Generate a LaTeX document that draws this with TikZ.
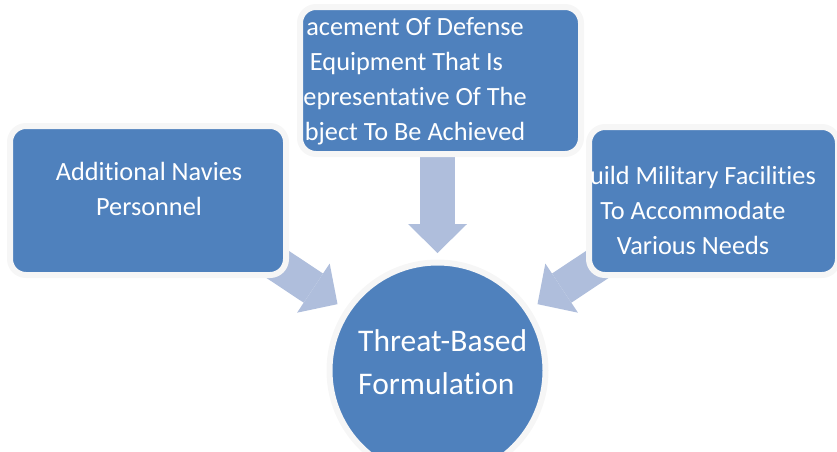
\documentclass[tikz,border=0pt]{standalone}
\usepackage{fontspec}
\setmainfont[Ligatures=NoCommon]{Carlito}
\usetikzlibrary{arrows.meta}
\pgfdeclarelayer{bg}
\pgfsetlayers{bg,main}
\definecolor{boxblue}{HTML}{4F81BD}
\definecolor{arrowblue}{HTML}{AFBEDC}
\definecolor{ringgray}{HTML}{F6F6F6}
\newcommand\stackc[1]{\begin{tabular}[t]{@{}c@{}}#1\end{tabular}}
\newcommand\stackl[1]{\begin{tabular}[t]{@{}l@{}}#1\end{tabular}}
\tikzset{
  boxnode/.style={rectangle, rounded corners=16pt, fill=boxblue, draw=ringgray,
    line width=6pt, inner sep=0pt, outer sep=0pt},
  circnode/.style={circle, fill=boxblue, draw=ringgray, line width=6pt,
    inner sep=0pt, outer sep=0pt, minimum size=216pt},
  boxtext/.style={text=white, inner sep=0pt, anchor=base,
    font=\fontsize{26.3}{35}\selectfont},
  circtext/.style={text=white, inner sep=0pt, anchor=base west,
    font=\fontsize{31.5}{42.6}\selectfont},
  bigarrow/.style={draw=arrowblue, fill=arrowblue, line width=35pt,
    -{Triangle[length=29pt,width=59pt,line width=0pt,fill=arrowblue]}}
}
\begin{document}
\begin{tikzpicture}[x=1pt,y=-1pt]
\useasboundingbox (0,0) rectangle (837,451);
\clip (0,0) rectangle (837,451);
% shapes
\node[boxnode, minimum width=276pt, minimum height=149pt] (L) at (148,200.5) {};
\node[boxnode, minimum width=281pt, minimum height=147pt] (T) at (440.5,80.5) {};
\node[boxnode, minimum width=249pt, minimum height=148pt] (R) at (713.5,201) {};
\node[circnode] (C) at (437.5,370.5) {};
% texts
\node[boxtext] (Ltext) at (149,180.7) {\stackc{Additional Navies\\Personnel}};
\node[boxtext] (Ttext) at (415,35) {\stackc{acement Of Defense\\Equipment That Is\hspace*{17pt}\\epresentative Of The\\bject To Be Achieved}};
\node[boxtext] (Rtext) at (693,184) {\stackc{\hspace*{20pt}uild Military Facilities\\To Accommodate\\Various Needs}};
\node[circtext] (Ctext) at (358,351.7) {\stackl{Threat-Based\\Formulation}};
% arrows
\coordinate (sT) at (437.5,150);
\coordinate (sL) at (268,258);
\coordinate (sR) at (607,258);
\begin{pgfonlayer}{bg}
\draw[bigarrow, shorten >=9.5pt] (sT) -- (C);
\draw[bigarrow, shorten >=12pt] (sL) -- (C);
\draw[bigarrow, shorten >=12pt] (sR) -- (C);
\end{pgfonlayer}
\end{tikzpicture}
\end{document}
